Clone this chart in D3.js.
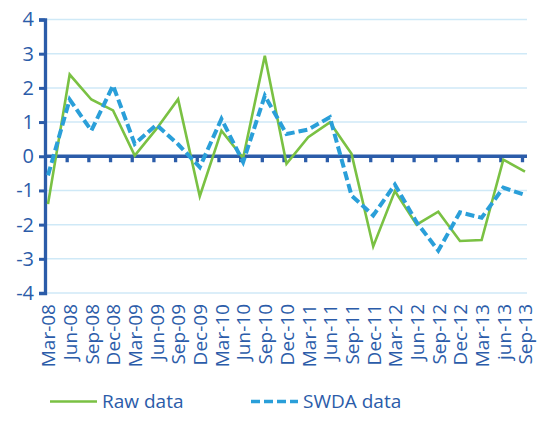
<!DOCTYPE html>
<html>
<head>
<meta charset="utf-8">
<script src="https://cdnjs.cloudflare.com/ajax/libs/d3/7.8.5/d3.min.js"></script>
<style>
  body { margin: 0; background: #fff; }
  svg text { font-family: "Open Sans", sans-serif; fill: #2b5ca9; }
</style>
</head>
<body>
<svg id="viz" width="542" height="427"></svg>
<script>
// quarterly categories
var quarters = ["Mar-08","Jun-08","Sep-08","Dec-08","Mar-09","Jun-09","Sep-09","Dec-09",
  "Mar-10","Jun-10","Sep-10","Dec-10","Mar-11","Jun-11","Sep-11","Dec-11",
  "Mar-12","Jun-12","Sep-12","Dec-12","Mar-13","jun-13","Sep-13"];
var rawData = [-1.40, 2.39, 1.66, 1.34, 0.02, 0.80, 1.67, -1.17,
  0.75, -0.05, 2.94, -0.22, 0.56, 0.99, 0.07, -2.64,
  -1.02, -2.00, -1.62, -2.48, -2.45, -0.10, -0.45];
var swdaData = [-0.56, 1.66, 0.75, 2.07, 0.36, 0.92, 0.35, -0.32,
  1.09, -0.17, 1.77, 0.65, 0.78, 1.14, -1.15, -1.73,
  -0.83, -1.93, -2.76, -1.64, -1.80, -0.92, -1.13];
var yTicks = [-4, -3, -2, -1, 0, 1, 2, 3, 4];
var seriesNames = ["Raw data", "SWDA data"];

var svg = d3.select("#viz");
var dark = "#2b5ca9", green = "#7ac143", blue = "#2a9fd9", grid = "#cfe9f7";

var x = d3.scalePoint().domain(quarters).range([48, 525]);
var y = d3.scaleLinear().domain([-4, 4]).range([293, 19.5]);

// gridlines
svg.append("g").selectAll("line")
  .data(yTicks).enter().append("line")
  .attr("x1", 45).attr("x2", 527)
  .attr("y1", function (d) { return y(d); })
  .attr("y2", function (d) { return y(d); })
  .attr("stroke", grid).attr("stroke-width", 1.5);

// left axis (plain hyphen for negatives, like the original)
var yAxis = d3.axisLeft(y).tickValues(yTicks).tickSize(6).tickPadding(5)
  .tickFormat(function (d) { return String(d); });
var gy = svg.append("g").attr("transform", "translate(45,0)").call(yAxis);
gy.select(".domain").attr("stroke", dark).attr("stroke-width", 3.3);
gy.selectAll(".tick line").attr("stroke", dark).attr("stroke-width", 3);
gy.selectAll(".tick text").style("font-size", "20px").attr("fill", dark);

// zero axis with ticks hanging below
var zeroAxis = d3.axisBottom(x).tickValues(quarters.slice(1)).tickSizeInner(6).tickSizeOuter(0).tickFormat("");
var gz = svg.append("g").attr("transform", "translate(0," + y(0) + ")").call(zeroAxis);
gz.select(".domain").remove();
gz.append("line").attr("x1", 45).attr("x2", 527).attr("stroke", dark).attr("stroke-width", 3.5);
gz.selectAll(".tick line").attr("stroke", dark).attr("stroke-width", 3.3).attr("transform", "translate(-3,0)");

// category labels
var xAxis = d3.axisBottom(x).tickSize(0).tickPadding(0);
var gx = svg.append("g").attr("transform", "translate(0,293)").call(xAxis);
gx.select(".domain").remove();
gx.selectAll(".tick text")
  .attr("transform", "rotate(-90)")
  .attr("x", -11).attr("y", 0).attr("dy", "0.36em")
  .style("text-anchor", "end").style("font-size", "19px").attr("fill", dark);

// lines
var line = d3.line()
  .x(function (d, i) { return x(quarters[i]); })
  .y(function (d) { return y(d); });

svg.append("path").datum(rawData)
  .attr("d", line).attr("fill", "none")
  .attr("stroke", green).attr("stroke-width", 2.6).attr("stroke-linejoin", "miter");
svg.append("path").datum(swdaData)
  .attr("d", line).attr("fill", "none")
  .attr("stroke", blue).attr("stroke-width", 4).attr("stroke-dasharray", "9,4");

// legend
var legend = svg.append("g");
var legendItems = [
  { name: seriesNames[0], color: green, dash: null, w: 2.6, x: 50 },
  { name: seriesNames[1], color: blue, dash: "9,4", w: 3.5, x: 251 }
];
legendItems.forEach(function (it) {
  legend.append("line").attr("x1", it.x).attr("x2", it.x + 47)
    .attr("y1", 401.5).attr("y2", 401.5)
    .attr("stroke", it.color).attr("stroke-width", it.w)
    .attr("stroke-dasharray", it.dash);
  legend.append("text").attr("x", it.x + 52).attr("y", 408)
    .style("font-size", "19px").attr("fill", dark).text(it.name);
});
</script>
</body>
</html>
